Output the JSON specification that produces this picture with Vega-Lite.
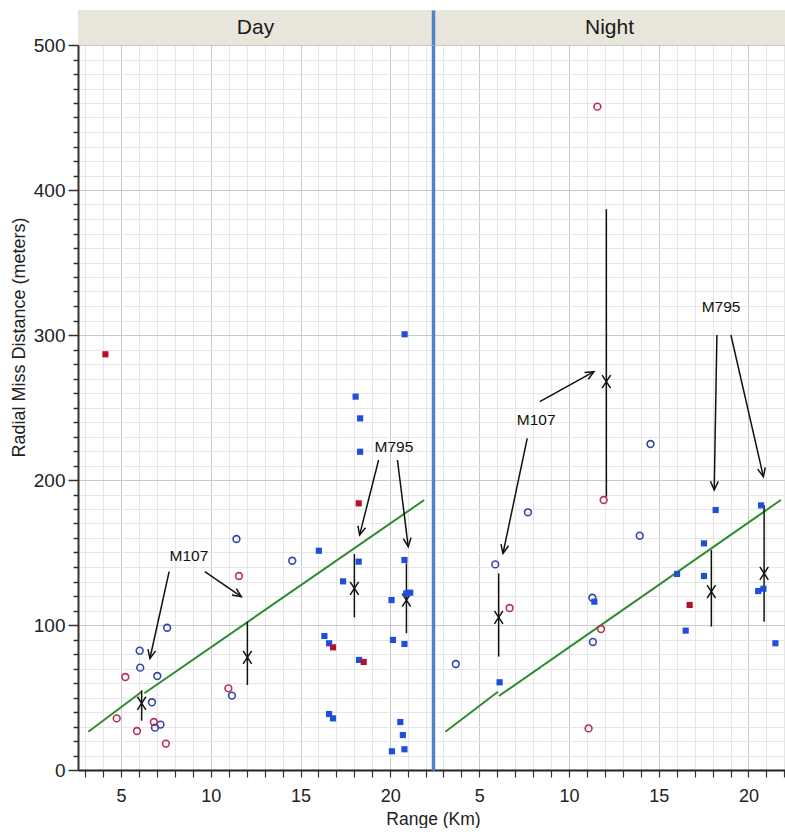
{
  "$schema": "https://vega.github.io/schema/vega-lite/v6.json",
  "padding": {"left": 10, "top": 10, "right": 0, "bottom": 0},
  "background": "white",
  "config": {
    "view": {"stroke": null},
    "font": "Liberation Sans",
    "axis": {"labelFont": "Liberation Sans", "titleFont": "Liberation Sans", "labelColor": "#222", "titleColor": "#222", "titleFontWeight": "normal", "labelOverlap": false, "labelFlush": false, "tickCount": 200}
  },
  "datasets": {
    "pts": [
      {"cond": "Day", "round": "M107", "lot": "A", "range": 7.57, "miss": 98.1},
      {"cond": "Day", "round": "M107", "lot": "A", "range": 6.04, "miss": 82.3},
      {"cond": "Day", "round": "M107", "lot": "A", "range": 6.07, "miss": 70.6},
      {"cond": "Day", "round": "M107", "lot": "A", "range": 7.02, "miss": 64.8},
      {"cond": "Day", "round": "M107", "lot": "A", "range": 6.72, "miss": 46.7},
      {"cond": "Day", "round": "M107", "lot": "A", "range": 6.89, "miss": 29.2},
      {"cond": "Day", "round": "M107", "lot": "A", "range": 7.2, "miss": 31.3},
      {"cond": "Day", "round": "M107", "lot": "A", "range": 11.43, "miss": 159.3},
      {"cond": "Day", "round": "M107", "lot": "A", "range": 14.54, "miss": 144.3},
      {"cond": "Day", "round": "M107", "lot": "A", "range": 11.18, "miss": 51.3},
      {"cond": "Day", "round": "M107", "lot": "B", "range": 5.24, "miss": 64.1},
      {"cond": "Day", "round": "M107", "lot": "B", "range": 4.76, "miss": 35.6},
      {"cond": "Day", "round": "M107", "lot": "B", "range": 6.83, "miss": 33.1},
      {"cond": "Day", "round": "M107", "lot": "B", "range": 5.89, "miss": 26.9},
      {"cond": "Day", "round": "M107", "lot": "B", "range": 7.5, "miss": 18.2},
      {"cond": "Day", "round": "M107", "lot": "B", "range": 11.57, "miss": 133.8},
      {"cond": "Day", "round": "M107", "lot": "B", "range": 10.98, "miss": 56.3},
      {"cond": "Day", "round": "M795", "lot": "A", "range": 16.02, "miss": 151.2},
      {"cond": "Day", "round": "M795", "lot": "A", "range": 17.37, "miss": 130.1},
      {"cond": "Day", "round": "M795", "lot": "A", "range": 18.24, "miss": 143.7},
      {"cond": "Day", "round": "M795", "lot": "A", "range": 18.32, "miss": 219.5},
      {"cond": "Day", "round": "M795", "lot": "A", "range": 18.32, "miss": 242.5},
      {"cond": "Day", "round": "M795", "lot": "A", "range": 18.07, "miss": 257.5},
      {"cond": "Day", "round": "M795", "lot": "A", "range": 20.8, "miss": 300.5},
      {"cond": "Day", "round": "M795", "lot": "A", "range": 16.33, "miss": 92.4},
      {"cond": "Day", "round": "M795", "lot": "A", "range": 16.59, "miss": 87.4},
      {"cond": "Day", "round": "M795", "lot": "A", "range": 18.26, "miss": 75.9},
      {"cond": "Day", "round": "M795", "lot": "A", "range": 16.59, "miss": 38.6},
      {"cond": "Day", "round": "M795", "lot": "A", "range": 16.81, "miss": 35.6},
      {"cond": "Day", "round": "M795", "lot": "A", "range": 20.07, "miss": 117.2},
      {"cond": "Day", "round": "M795", "lot": "A", "range": 20.79, "miss": 144.8},
      {"cond": "Day", "round": "M795", "lot": "A", "range": 20.89, "miss": 121.8},
      {"cond": "Day", "round": "M795", "lot": "A", "range": 21.11, "miss": 122.3},
      {"cond": "Day", "round": "M795", "lot": "A", "range": 20.15, "miss": 89.7},
      {"cond": "Day", "round": "M795", "lot": "A", "range": 20.79, "miss": 86.9},
      {"cond": "Day", "round": "M795", "lot": "A", "range": 20.56, "miss": 33.1},
      {"cond": "Day", "round": "M795", "lot": "A", "range": 20.7, "miss": 24.1},
      {"cond": "Day", "round": "M795", "lot": "A", "range": 20.79, "miss": 14.3},
      {"cond": "Day", "round": "M795", "lot": "A", "range": 20.09, "miss": 12.9},
      {"cond": "Day", "round": "M795", "lot": "B", "range": 4.13, "miss": 286.7},
      {"cond": "Day", "round": "M795", "lot": "B", "range": 18.24, "miss": 183.9},
      {"cond": "Day", "round": "M795", "lot": "B", "range": 16.81, "miss": 84.6},
      {"cond": "Day", "round": "M795", "lot": "B", "range": 18.52, "miss": 74.5},
      {"cond": "Night", "round": "M107", "lot": "A", "range": 3.69, "miss": 73.1},
      {"cond": "Night", "round": "M107", "lot": "A", "range": 5.89, "miss": 141.8},
      {"cond": "Night", "round": "M107", "lot": "A", "range": 7.71, "miss": 177.7},
      {"cond": "Night", "round": "M107", "lot": "A", "range": 11.3, "miss": 118.8},
      {"cond": "Night", "round": "M107", "lot": "A", "range": 11.33, "miss": 88.3},
      {"cond": "Night", "round": "M107", "lot": "A", "range": 14.54, "miss": 224.8},
      {"cond": "Night", "round": "M107", "lot": "A", "range": 13.94, "miss": 161.6},
      {"cond": "Night", "round": "M107", "lot": "B", "range": 6.69, "miss": 111.7},
      {"cond": "Night", "round": "M107", "lot": "B", "range": 11.78, "miss": 97.2},
      {"cond": "Night", "round": "M107", "lot": "B", "range": 11.09, "miss": 28.7},
      {"cond": "Night", "round": "M107", "lot": "B", "range": 11.93, "miss": 186.2},
      {"cond": "Night", "round": "M107", "lot": "B", "range": 11.58, "miss": 457.5},
      {"cond": "Night", "round": "M795", "lot": "A", "range": 6.13, "miss": 60.5},
      {"cond": "Night", "round": "M795", "lot": "A", "range": 11.41, "miss": 116.1},
      {"cond": "Night", "round": "M795", "lot": "A", "range": 18.17, "miss": 179.3},
      {"cond": "Night", "round": "M795", "lot": "A", "range": 20.7, "miss": 182.5},
      {"cond": "Night", "round": "M795", "lot": "A", "range": 17.52, "miss": 156.3},
      {"cond": "Night", "round": "M795", "lot": "A", "range": 17.52, "miss": 133.8},
      {"cond": "Night", "round": "M795", "lot": "A", "range": 16.02, "miss": 135.2},
      {"cond": "Night", "round": "M795", "lot": "A", "range": 16.5, "miss": 96.1},
      {"cond": "Night", "round": "M795", "lot": "A", "range": 20.54, "miss": 123.4},
      {"cond": "Night", "round": "M795", "lot": "A", "range": 20.83, "miss": 125.0},
      {"cond": "Night", "round": "M795", "lot": "A", "range": 21.5, "miss": 87.4},
      {"cond": "Night", "round": "M795", "lot": "B", "range": 16.72, "miss": 113.8}
    ],
    "bars": [
      {"cond": "Day", "range": 6.15, "lo": 34, "hi": 55, "mid": 46},
      {"cond": "Day", "range": 12.04, "lo": 58.6, "hi": 102.3, "mid": 77.7},
      {"cond": "Day", "range": 18.0, "lo": 105.3, "hi": 149, "mid": 125.3},
      {"cond": "Day", "range": 20.9, "lo": 94.3, "hi": 142.5, "mid": 117.2},
      {"cond": "Night", "range": 6.08, "lo": 78.2, "hi": 135.6, "mid": 105.3},
      {"cond": "Night", "range": 12.08, "lo": 188.5, "hi": 386.7, "mid": 267.8},
      {"cond": "Night", "range": 17.93, "lo": 98.9, "hi": 151.7, "mid": 123},
      {"cond": "Night", "range": 20.87, "lo": 102.3, "hi": 182.8, "mid": 135.6}
    ],
    "fit": [
      {"cond": "Day", "seg": 1, "range": 3.18, "miss": 26.4},
      {"cond": "Day", "seg": 1, "range": 6.15, "miss": 54.0},
      {"cond": "Day", "seg": 2, "range": 6.3, "miss": 52.9},
      {"cond": "Day", "seg": 2, "range": 21.89, "miss": 186.2},
      {"cond": "Night", "seg": 1, "range": 3.11, "miss": 26.4},
      {"cond": "Night", "seg": 1, "range": 6.04, "miss": 54.0},
      {"cond": "Night", "seg": 2, "range": 6.09, "miss": 51.0},
      {"cond": "Night", "seg": 2, "range": 21.8, "miss": 186.2}
    ],
    "arrows": [
      {"cond": "Day", "x": 7.68, "y": 136.8, "x2": 6.61, "y2": 76.9},
      {"cond": "Day", "x": 9.67, "y": 136.8, "x2": 11.7, "y2": 119.5},
      {"cond": "Day", "x": 19.35, "y": 213.8, "x2": 18.29, "y2": 162},
      {"cond": "Day", "x": 20.4, "y": 213.8, "x2": 21.0, "y2": 154},
      {"cond": "Night", "x": 8.37, "y": 254, "x2": 11.39, "y2": 274.7},
      {"cond": "Night", "x": 7.67, "y": 228.7, "x2": 6.32, "y2": 149.4},
      {"cond": "Night", "x": 18.24, "y": 300, "x2": 18.09, "y2": 193.1},
      {"cond": "Night", "x": 19.02, "y": 300, "x2": 20.83, "y2": 202.3}
    ],
    "notes": [
      {"cond": "Day", "range": 8.78, "miss": 147.6, "text": "M107"},
      {"cond": "Day", "range": 20.2, "miss": 223, "text": "M795"},
      {"cond": "Night", "range": 8.17, "miss": 241.4, "text": "M107"},
      {"cond": "Night", "range": 18.47, "miss": 319.5, "text": "M795"}
    ]
  },
  "columns": 2,
  "spacing": 0,
  "bounds": "flush",
  "concat": [
    {
      "width": 355, "height": 35,
      "view": {"fill": "#e8e5da", "stroke": null},
      "data": {"values": [{"label": "Day"}]},
      "mark": {"type": "text", "fontSize": 21, "font": "Liberation Sans", "color": "#1a1a1a"},
      "encoding": {"text": {"field": "label"}}
    },
    {
      "width": 353, "height": 35,
      "view": {"fill": "#e8e5da", "stroke": null},
      "data": {"values": [{"label": "Night"}]},
      "mark": {"type": "text", "fontSize": 21, "font": "Liberation Sans", "color": "#1a1a1a"},
      "encoding": {
        "text": {"field": "label"},
        "y": {"field": "label", "type": "nominal", "axis": {"title": null, "labels": false, "ticks": false, "grid": false, "domainColor": "#4f83c4", "domainWidth": 3.5}}
      }
    },
    {
      "name": "day",
      "width": 355, "height": 725,
      "layer": [
        {
          "data": {"name": "fit"},
          "transform": [{"filter": "datum.cond === 'Day'"}],
          "mark": {"type": "line", "color": "#2e8b2e", "strokeWidth": 2},
          "encoding": {
            "x": {"field": "range", "type": "quantitative", "scale": {"domain": [2.604, 22.38], "nice": false, "zero": false},
              "axis": {"title": "Range (Km)", "titleX": 355, "titleFontSize": 17.5, "titlePadding": 5, "tickCount": 200, "format": "d",
                "values": [3,4,5,6,7,8,9,10,11,12,13,14,15,16,17,18,19,20,21,22],
                "labelExpr": "datum.value % 5 === 0 ? datum.label : ''",
                "labelFontSize": 18, "labelPadding": 10, "tickSize": 7, "tickColor": "#333", "tickWidth": 1.2,
                "domainColor": "#222", "domainWidth": 2,
                "grid": true, "gridColor": {"condition": {"test": "datum.value % 5 === 0", "value": "#c9c9c9"}, "value": "#e6e6e6"}, "gridWidth": 1}},
            "y": {"field": "miss", "type": "quantitative", "scale": {"domain": [0, 500], "nice": false},
              "axis": {"title": "Radial Miss Distance (meters)", "titleFontSize": 18, "titlePadding": 5, "titleY": 292, "tickCount": 200, "format": "d",
                "values": [0,10,20,30,40,50,60,70,80,90,100,110,120,130,140,150,160,170,180,190,200,210,220,230,240,250,260,270,280,290,300,310,320,330,340,350,360,370,380,390,400,410,420,430,440,450,460,470,480,490,500],
                "labelExpr": "datum.value % 100 === 0 ? datum.label : ''",
                "labelFontSize": 19, "labelPadding": 3,
                "tickSize": {"condition": {"test": "datum.value % 100 === 0", "value": 10}, "value": 5},
                "tickColor": "#333", "tickWidth": 1.5,
                "domainColor": "#333", "domainWidth": 2,
                "grid": true, "gridColor": {"condition": {"test": "datum.value % 100 === 0", "value": "#c9c9c9"}, "value": "#e6e6e6"}, "gridWidth": 1}},
            "detail": {"field": "seg"}
          }
        },
        {
          "data": {"name": "bars"},
          "transform": [{"filter": "datum.cond === 'Day'"}],
          "mark": {"type": "rule", "color": "#111", "strokeWidth": 1.5},
          "encoding": {
            "x": {"field": "range", "type": "quantitative"},
            "y": {"field": "lo", "type": "quantitative"},
            "y2": {"field": "hi"}
          }
        },
        {
          "data": {"name": "bars"},
          "transform": [{"filter": "datum.cond === 'Day'"}],
          "mark": {"type": "point", "shape": "M -0.65 -1 L 0.65 1 M 0.65 -1 L -0.65 1", "size": 170, "filled": false, "stroke": "#111", "strokeWidth": 1.5, "opacity": 1},
          "encoding": {
            "x": {"field": "range", "type": "quantitative"},
            "y": {"field": "mid", "type": "quantitative"}
          }
        },
        {
          "data": {"name": "pts"},
          "transform": [{"filter": "datum.cond === 'Day' && datum.round === 'M107'"}],
          "mark": {"type": "point", "shape": "circle", "filled": false, "size": 46, "strokeWidth": 1.6, "opacity": 1},
          "encoding": {
            "x": {"field": "range", "type": "quantitative"},
            "y": {"field": "miss", "type": "quantitative"},
            "stroke": {"field": "lot", "type": "nominal", "scale": {"domain": ["A", "B"], "range": ["#3545a5", "#b8304f"]}, "legend": null}
          }
        },
        {
          "data": {"name": "pts"},
          "transform": [{"filter": "datum.cond === 'Day' && datum.round === 'M795'"}],
          "mark": {"type": "point", "shape": "square", "filled": true, "size": 38, "opacity": 1},
          "encoding": {
            "x": {"field": "range", "type": "quantitative"},
            "y": {"field": "miss", "type": "quantitative"},
            "fill": {"field": "lot", "type": "nominal", "scale": {"domain": ["A", "B"], "range": ["#1d4fd8", "#b3102e"]}, "legend": null}
          }
        },
        {
          "data": {"name": "arrows"},
          "transform": [{"filter": "datum.cond === 'Day'"}],
          "mark": {"type": "rule", "color": "#111", "strokeWidth": 1.5},
          "encoding": {
            "x": {"field": "x", "type": "quantitative"},
            "y": {"field": "y", "type": "quantitative"},
            "x2": {"field": "x2"},
            "y2": {"field": "y2"}
          }
        },
        {
          "data": {"name": "arrows"},
          "transform": [{"filter": "datum.cond === 'Day'"}],
          "mark": {"type": "point", "shape": "M -0.45 1 L 0 0 L 0.45 1", "size": 300, "filled": false, "stroke": "#111", "strokeWidth": 1.5, "opacity": 1,
            "angle": {"expr": "atan2(scale('day_x', datum.x2) - scale('day_x', datum.x), scale('day_y', datum.y) - scale('day_y', datum.y2)) * 180 / PI"}},
          "encoding": {
            "x": {"field": "x2", "type": "quantitative"},
            "y": {"field": "y2", "type": "quantitative"}
          }
        },
        {
          "data": {"name": "notes"},
          "transform": [{"filter": "datum.cond === 'Day'"}],
          "mark": {"type": "text", "fontSize": 15.5, "font": "Liberation Sans", "color": "#111"},
          "encoding": {
            "x": {"field": "range", "type": "quantitative"},
            "y": {"field": "miss", "type": "quantitative"},
            "text": {"field": "text"}
          }
        }
      ]
    },
    {
      "name": "night",
      "width": 353, "height": 725,
      "layer": [
        {
          "data": {"name": "fit"},
          "transform": [{"filter": "datum.cond === 'Night'"}],
          "mark": {"type": "line", "color": "#2e8b2e", "strokeWidth": 2},
          "encoding": {
            "x": {"field": "range", "type": "quantitative", "scale": {"domain": [2.42, 22.09], "nice": false, "zero": false},
              "axis": {"title": null, "tickCount": 200, "format": "d",
                "values": [3,4,5,6,7,8,9,10,11,12,13,14,15,16,17,18,19,20,21,22],
                "labelExpr": "datum.value % 5 === 0 ? datum.label : ''",
                "labelFontSize": 18, "labelPadding": 10, "tickSize": 7, "tickColor": "#333", "tickWidth": 1.2,
                "domainColor": "#222", "domainWidth": 2,
                "grid": true, "gridColor": {"condition": {"test": "datum.value % 5 === 0", "value": "#c9c9c9"}, "value": "#e6e6e6"}, "gridWidth": 1}},
            "y": {"field": "miss", "type": "quantitative", "scale": {"domain": [0, 500], "nice": false},
              "axis": {"title": null, "labels": false, "ticks": false, "tickCount": 200,
                "values": [0,10,20,30,40,50,60,70,80,90,100,110,120,130,140,150,160,170,180,190,200,210,220,230,240,250,260,270,280,290,300,310,320,330,340,350,360,370,380,390,400,410,420,430,440,450,460,470,480,490,500],
                "domainColor": "#4f83c4", "domainWidth": 3.5,
                "grid": true, "gridColor": {"condition": {"test": "datum.value % 100 === 0", "value": "#c9c9c9"}, "value": "#e6e6e6"}, "gridWidth": 1}},
            "detail": {"field": "seg"}
          }
        },
        {
          "data": {"name": "bars"},
          "transform": [{"filter": "datum.cond === 'Night'"}],
          "mark": {"type": "rule", "color": "#111", "strokeWidth": 1.5},
          "encoding": {
            "x": {"field": "range", "type": "quantitative"},
            "y": {"field": "lo", "type": "quantitative"},
            "y2": {"field": "hi"}
          }
        },
        {
          "data": {"name": "bars"},
          "transform": [{"filter": "datum.cond === 'Night'"}],
          "mark": {"type": "point", "shape": "M -0.65 -1 L 0.65 1 M 0.65 -1 L -0.65 1", "size": 170, "filled": false, "stroke": "#111", "strokeWidth": 1.5, "opacity": 1},
          "encoding": {
            "x": {"field": "range", "type": "quantitative"},
            "y": {"field": "mid", "type": "quantitative"}
          }
        },
        {
          "data": {"name": "pts"},
          "transform": [{"filter": "datum.cond === 'Night' && datum.round === 'M107'"}],
          "mark": {"type": "point", "shape": "circle", "filled": false, "size": 46, "strokeWidth": 1.6, "opacity": 1},
          "encoding": {
            "x": {"field": "range", "type": "quantitative"},
            "y": {"field": "miss", "type": "quantitative"},
            "stroke": {"field": "lot", "type": "nominal", "scale": {"domain": ["A", "B"], "range": ["#3545a5", "#b8304f"]}, "legend": null}
          }
        },
        {
          "data": {"name": "pts"},
          "transform": [{"filter": "datum.cond === 'Night' && datum.round === 'M795'"}],
          "mark": {"type": "point", "shape": "square", "filled": true, "size": 38, "opacity": 1},
          "encoding": {
            "x": {"field": "range", "type": "quantitative"},
            "y": {"field": "miss", "type": "quantitative"},
            "fill": {"field": "lot", "type": "nominal", "scale": {"domain": ["A", "B"], "range": ["#1d4fd8", "#b3102e"]}, "legend": null}
          }
        },
        {
          "data": {"name": "arrows"},
          "transform": [{"filter": "datum.cond === 'Night'"}],
          "mark": {"type": "rule", "color": "#111", "strokeWidth": 1.5},
          "encoding": {
            "x": {"field": "x", "type": "quantitative"},
            "y": {"field": "y", "type": "quantitative"},
            "x2": {"field": "x2"},
            "y2": {"field": "y2"}
          }
        },
        {
          "data": {"name": "arrows"},
          "transform": [{"filter": "datum.cond === 'Night'"}],
          "mark": {"type": "point", "shape": "M -0.45 1 L 0 0 L 0.45 1", "size": 300, "filled": false, "stroke": "#111", "strokeWidth": 1.5, "opacity": 1,
            "angle": {"expr": "atan2(scale('night_x', datum.x2) - scale('night_x', datum.x), scale('night_y', datum.y) - scale('night_y', datum.y2)) * 180 / PI"}},
          "encoding": {
            "x": {"field": "x2", "type": "quantitative"},
            "y": {"field": "y2", "type": "quantitative"}
          }
        },
        {
          "data": {"name": "notes"},
          "transform": [{"filter": "datum.cond === 'Night'"}],
          "mark": {"type": "text", "fontSize": 15.5, "font": "Liberation Sans", "color": "#111"},
          "encoding": {
            "x": {"field": "range", "type": "quantitative"},
            "y": {"field": "miss", "type": "quantitative"},
            "text": {"field": "text"}
          }
        }
      ]
    }
  ]
}
